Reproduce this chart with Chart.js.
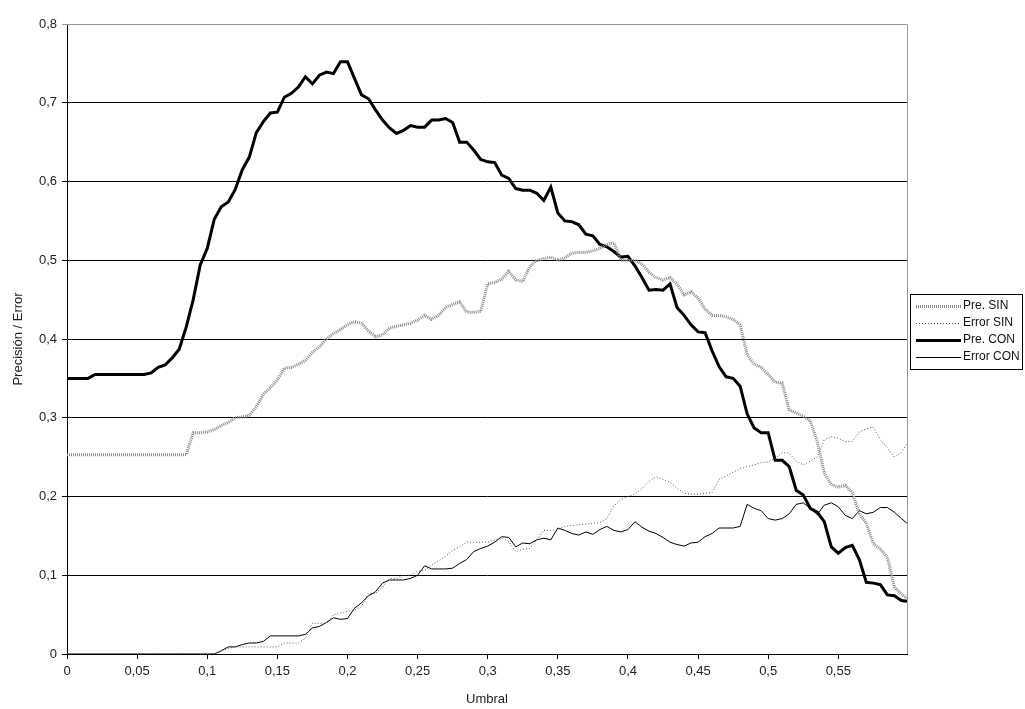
<!DOCTYPE html>
<html>
<head>
<meta charset="utf-8">
<script src="https://cdn.jsdelivr.net/npm/chart.js@4/dist/chart.umd.min.js"></script>
<style>
  body { margin: 0; background: #fff; }
  canvas { display: block; }
</style>
</head>
<body>
<canvas id="umbralChart" width="1025" height="709"></canvas>
<script>
// umbral (x) values
const umbral = [
  0, 0.005, 0.01, 0.015, 0.02, 0.025, 0.03, 0.035, 0.04, 0.045,
  0.05, 0.055, 0.06, 0.065, 0.07, 0.075, 0.08, 0.085, 0.09, 0.095,
  0.1, 0.105, 0.11, 0.115, 0.12, 0.125, 0.13, 0.135, 0.14, 0.145,
  0.15, 0.155, 0.16, 0.165, 0.17, 0.175, 0.18, 0.185, 0.19, 0.195,
  0.2, 0.205, 0.21, 0.215, 0.22, 0.225, 0.23, 0.235, 0.24, 0.245,
  0.25, 0.255, 0.26, 0.265, 0.27, 0.275, 0.28, 0.285, 0.29, 0.295,
  0.3, 0.305, 0.31, 0.315, 0.32, 0.325, 0.33, 0.335, 0.34, 0.345,
  0.35, 0.355, 0.36, 0.365, 0.37, 0.375, 0.38, 0.385, 0.39, 0.395,
  0.4, 0.405, 0.41, 0.415, 0.42, 0.425, 0.43, 0.435, 0.44, 0.445,
  0.45, 0.455, 0.46, 0.465, 0.47, 0.475, 0.48, 0.485, 0.49, 0.495,
  0.5, 0.505, 0.51, 0.515, 0.52, 0.525, 0.53, 0.535, 0.54, 0.545,
  0.55, 0.555, 0.56, 0.565, 0.57, 0.575, 0.58, 0.585, 0.59, 0.595,
  0.599
];

const preSin = [
  0.253, 0.253, 0.253, 0.253, 0.253, 0.253, 0.253, 0.253, 0.253, 0.253,
  0.253, 0.253, 0.253, 0.253, 0.253, 0.253, 0.253, 0.253, 0.281, 0.281,
  0.282, 0.285, 0.29, 0.294, 0.3, 0.301, 0.303, 0.314, 0.33, 0.338,
  0.348, 0.363, 0.364, 0.368, 0.373, 0.383, 0.39, 0.4, 0.407, 0.412,
  0.418, 0.422, 0.42, 0.41, 0.403, 0.405, 0.414, 0.416, 0.418, 0.42,
  0.424, 0.43, 0.425, 0.43, 0.44, 0.444, 0.447, 0.434, 0.434, 0.435,
  0.47, 0.472, 0.476, 0.486, 0.475, 0.473, 0.492, 0.5, 0.502, 0.504,
  0.5, 0.503, 0.509, 0.51, 0.51, 0.512, 0.515, 0.52, 0.522, 0.5,
  0.5, 0.5, 0.495, 0.485, 0.478, 0.475, 0.478, 0.47, 0.456, 0.46,
  0.452, 0.438, 0.43, 0.43, 0.428, 0.425, 0.418, 0.38, 0.368, 0.364,
  0.355, 0.345, 0.344, 0.31, 0.306, 0.302, 0.296, 0.27, 0.23, 0.215,
  0.212, 0.214, 0.205, 0.178, 0.166, 0.14, 0.133, 0.123, 0.085, 0.076,
  0.071
];

const errorSin = [
  0, 0, 0, 0, 0, 0, 0, 0, 0, 0,
  0, 0, 0, 0, 0, 0, 0, 0, 0, 0,
  0, 0, 0.005, 0.007, 0.009, 0.009, 0.009, 0.009, 0.009, 0.009,
  0.009, 0.014, 0.014, 0.014, 0.02, 0.039, 0.039, 0.039, 0.05, 0.052,
  0.054, 0.056, 0.06, 0.077, 0.077, 0.085, 0.096, 0.096, 0.1, 0.1,
  0.105, 0.106, 0.113, 0.118, 0.124, 0.132, 0.136, 0.142, 0.142, 0.142,
  0.142, 0.145, 0.147, 0.143, 0.13, 0.133, 0.134, 0.145, 0.157, 0.157,
  0.158, 0.162, 0.163, 0.164, 0.165, 0.166, 0.167, 0.172, 0.188, 0.196,
  0.2, 0.203, 0.21, 0.219, 0.225, 0.222, 0.218, 0.211, 0.204, 0.203,
  0.203, 0.204, 0.205, 0.222, 0.226, 0.231, 0.235, 0.238, 0.24, 0.243,
  0.244, 0.248, 0.256, 0.255, 0.245, 0.24, 0.245, 0.25, 0.272, 0.276,
  0.274, 0.27, 0.27, 0.282, 0.286, 0.288, 0.272, 0.262, 0.25, 0.256,
  0.267
];

const preCon = [
  0.35, 0.35, 0.35, 0.35, 0.355, 0.355, 0.355, 0.355, 0.355, 0.355,
  0.355, 0.355, 0.357, 0.364, 0.367, 0.376, 0.387, 0.415, 0.45, 0.494,
  0.515, 0.552, 0.568, 0.574, 0.59, 0.615, 0.631, 0.662, 0.676, 0.687,
  0.688, 0.707, 0.712, 0.72, 0.733, 0.724, 0.735, 0.739, 0.737, 0.752,
  0.752, 0.731, 0.71, 0.705, 0.691, 0.678, 0.668, 0.661, 0.665, 0.671,
  0.669, 0.669, 0.678, 0.678, 0.68, 0.675, 0.65, 0.65, 0.64, 0.628,
  0.625, 0.624, 0.608, 0.604, 0.591, 0.589, 0.589, 0.585, 0.576, 0.593,
  0.56, 0.55, 0.549, 0.545, 0.533, 0.531, 0.52, 0.517, 0.511, 0.504,
  0.505, 0.493, 0.478, 0.462, 0.463, 0.462, 0.47, 0.44, 0.43, 0.418,
  0.409, 0.408, 0.385, 0.365, 0.352, 0.35, 0.34, 0.305, 0.287, 0.281,
  0.281, 0.246, 0.246, 0.238, 0.208, 0.202, 0.185, 0.18, 0.168, 0.136,
  0.128, 0.135, 0.138, 0.12, 0.091, 0.09, 0.088, 0.075, 0.074, 0.068,
  0.067
];

const errorCon = [
  0, 0, 0, 0, 0, 0, 0, 0, 0, 0,
  0, 0, 0, 0, 0, 0, 0, 0, 0, 0,
  0, 0, 0.004, 0.009, 0.009, 0.012, 0.014, 0.014, 0.016, 0.023,
  0.023, 0.023, 0.023, 0.023, 0.025, 0.033, 0.035, 0.04, 0.046, 0.044,
  0.045, 0.058, 0.065, 0.074, 0.079, 0.09, 0.094, 0.094, 0.094, 0.096,
  0.1, 0.112, 0.108, 0.108, 0.108, 0.109, 0.115, 0.12, 0.13, 0.134,
  0.137, 0.142, 0.149, 0.148, 0.136, 0.141, 0.14, 0.145, 0.147, 0.145,
  0.16, 0.157, 0.153, 0.151, 0.155, 0.152, 0.158, 0.162, 0.157, 0.155,
  0.158, 0.168, 0.161, 0.156, 0.153, 0.148, 0.142, 0.139, 0.137, 0.141,
  0.142, 0.149, 0.153, 0.16, 0.16, 0.16, 0.162, 0.19, 0.185, 0.182,
  0.172, 0.17, 0.172, 0.178, 0.19, 0.192, 0.185, 0.177, 0.189, 0.192,
  0.187, 0.176, 0.172, 0.182, 0.178, 0.18, 0.186, 0.186, 0.18, 0.172,
  0.166
];

const xTicks = [0, 0.05, 0.1, 0.15, 0.2, 0.25, 0.3, 0.35, 0.4, 0.45, 0.5, 0.55];
const seriesNames = ['Pre. SIN', 'Error SIN', 'Pre. CON', 'Error CON'];

const FONT = "'Liberation Sans', Arial, sans-serif";
const comma = v => String(Math.round(v * 1000) / 1000).replace('.', ',');
const points = arr => arr.map((y, i) => ({ x: umbral[i], y: y }));

// gray top/right frame of the plot area
const plotFrame = {
  id: 'plotFrame',
  beforeDatasetsDraw(chart) {
    const { ctx, chartArea: a } = chart;
    ctx.save();
    ctx.strokeStyle = '#999';
    ctx.lineWidth = 1;
    ctx.beginPath();
    ctx.moveTo(a.left, a.top + 0.5);
    ctx.lineTo(a.right + 0.5, a.top + 0.5);
    ctx.lineTo(a.right + 0.5, a.bottom);
    ctx.stroke();
    ctx.restore();
  }
};

// Excel-like boxed legend on the right
const boxLegend = {
  id: 'boxLegend',
  afterDraw(chart) {
    const { ctx } = chart;
    const left = 910, top = 294, w = 112, h = 75;
    ctx.save();
    ctx.strokeStyle = '#000';
    ctx.lineWidth = 1;
    ctx.strokeRect(left + 0.5, top + 0.5, w, h);
    ctx.font = '12px ' + FONT;
    ctx.textBaseline = 'middle';
    ctx.fillStyle = '#111';
    chart.data.datasets.forEach((ds, i) => {
      const y = top + 12 + i * 17;
      ctx.strokeStyle = ds.borderColor;
      ctx.lineWidth = ds.borderWidth;
      ctx.setLineDash(ds.borderDash || []);
      ctx.beginPath();
      ctx.moveTo(left + 6, y + 0.5);
      ctx.lineTo(left + 51, y + 0.5);
      ctx.stroke();
      ctx.setLineDash([]);
      ctx.fillText(ds.label, left + 53, y);
    });
    ctx.restore();
  }
};

new Chart(document.getElementById('umbralChart'), {
  type: 'line',
  data: {
    datasets: [
      { label: seriesNames[0], data: points(preSin), borderColor: '#8a8a8a', borderWidth: 3, borderDash: [1, 1] },
      { label: seriesNames[1], data: points(errorSin), borderColor: '#555', borderWidth: 1, borderDash: [1, 2] },
      { label: seriesNames[2], data: points(preCon), borderColor: '#000', borderWidth: 3 },
      { label: seriesNames[3], data: points(errorCon), borderColor: '#000', borderWidth: 1 }
    ]
  },
  options: {
    responsive: false,
    animation: false,
    events: [],
    elements: { point: { radius: 0 }, line: { tension: 0 } },
    layout: { padding: { top: 24, right: 118, left: 0, bottom: 0 } },
    plugins: { legend: { display: false }, tooltip: { enabled: false } },
    scales: {
      x: {
        type: 'linear',
        min: 0,
        max: 0.599,
        afterBuildTicks: s => { s.ticks = xTicks.map(v => ({ value: v })); },
        afterFit: s => { s.height = 55; },
        grid: { drawOnChartArea: false, drawTicks: true, tickLength: 5, color: '#000' },
        border: { color: '#000', width: 1 },
        ticks: { callback: v => comma(v), color: '#222', padding: 5, maxRotation: 0, font: { family: FONT, size: 13 } },
        title: { display: true, text: 'Umbral', color: '#222', padding: { top: 2, bottom: 2 }, font: { family: FONT, size: 13 } }
      },
      y: {
        min: 0,
        max: 0.8,
        afterFit: s => { s.width = 67; },
        grid: {
          color: c => (c.tick && c.tick.value >= 0.8 ? '#999' : '#000'),
          drawTicks: true,
          tickLength: 5
        },
        border: { color: '#000', width: 1 },
        ticks: { stepSize: 0.1, callback: v => comma(v), color: '#222', padding: 5, font: { family: FONT, size: 13 } },
        title: { display: true, text: 'Precisión / Error', color: '#222', padding: { top: 11, bottom: 0 }, font: { family: FONT, size: 13 } }
      }
    }
  },
  plugins: [plotFrame, boxLegend]
});
</script>
</body>
</html>
